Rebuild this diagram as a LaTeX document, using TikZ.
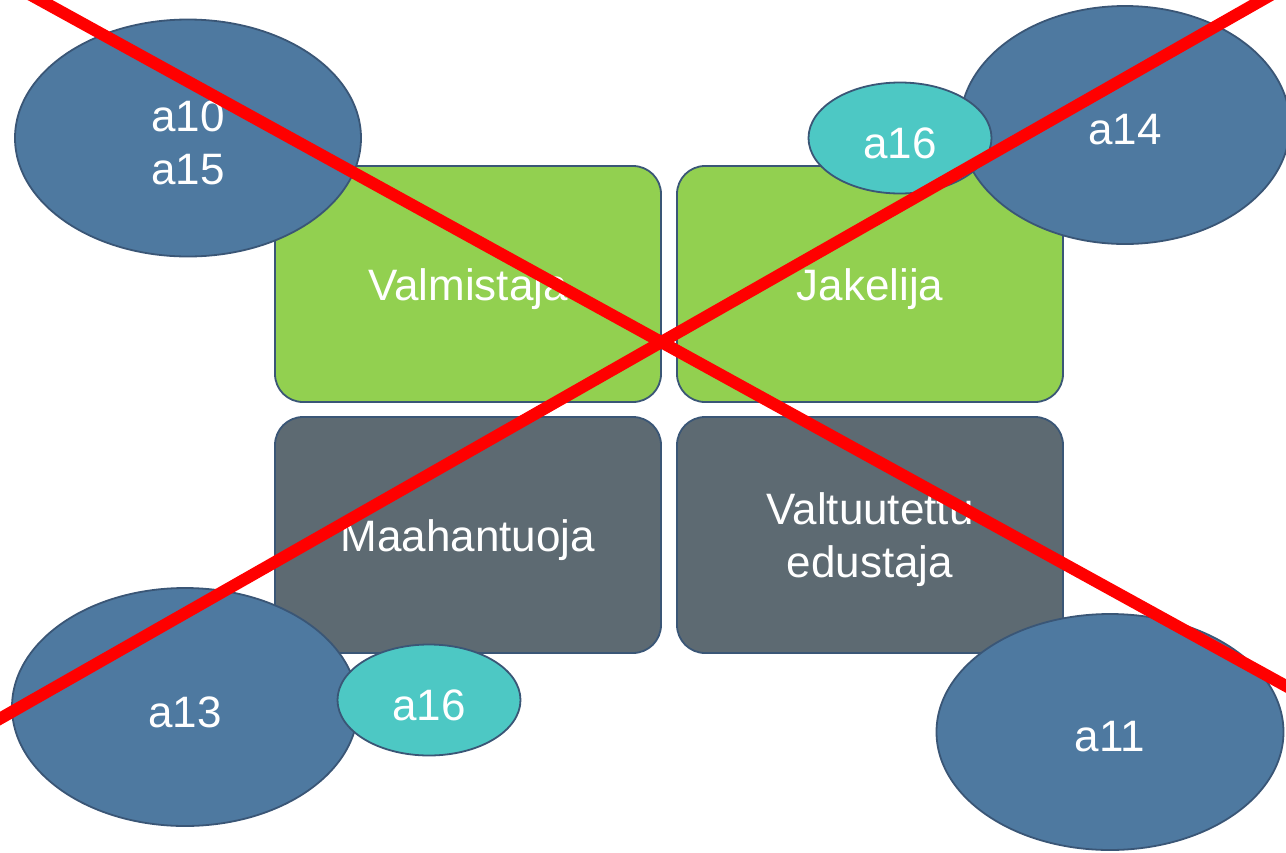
\documentclass[tikz,border=0pt]{standalone}
\usepackage{fontspec}
\setmainfont{Liberation Sans}
\usetikzlibrary{shapes.geometric}
\definecolor{boxgreen}{HTML}{92D050}
\definecolor{boxgrey}{HTML}{5D6A72}
\definecolor{ellblue}{HTML}{4E79A0}
\definecolor{ellteal}{HTML}{4DC8C4}
\definecolor{edge}{HTML}{3A5676}
\begin{document}
\begin{tikzpicture}[x=1pt,y=-1pt,
  lbl/.style={text=white,font=\fontsize{44}{53}\selectfont,align=center,inner sep=0pt,yshift=-5pt},
  rolebox/.style={draw=edge,line width=1.8pt,rounded corners=28pt,minimum width=386pt,minimum height=236pt,inner sep=0pt},
  bigell/.style={ellipse,draw=edge,line width=1.8pt,fill=ellblue,inner sep=0pt},
  smallell/.style={ellipse,draw=edge,line width=1.8pt,fill=ellteal,inner sep=0pt,minimum width=183pt,minimum height=111pt},
  cross/.style={draw=red,line width=12pt}]
\useasboundingbox (0,0) rectangle (1286,852);
\clip (0,0) rectangle (1286,852);
\node[rolebox,fill=boxgreen,label={[lbl]center:Valmistaja}] (valm) at (468,284) {};
\node[rolebox,fill=boxgreen,label={[lbl]center:Jakelija}] (jak) at (870,284) {};
\node[rolebox,fill=boxgrey,label={[lbl]center:Maahantuoja}] (maah) at (468,535) {};
\node[rolebox,fill=boxgrey,label={[lbl]center:Valtuutettu\\edustaja}] (valt) at (870,535) {};
\node[bigell,minimum width=346pt,minimum height=237pt,label={[lbl]center:a10\\a15}] (e1) at (188,138) {};
\node[bigell,minimum width=330pt,minimum height=238pt,label={[lbl]center:a14}] (e2) at (1125,125) {};
\node[smallell,label={[lbl]center:a16}] (e3) at (900,138) {};
\node[bigell,minimum width=346pt,minimum height=238pt,label={[lbl]center:a13}] (e4) at (185,707) {};
\node[smallell,label={[lbl]center:a16}] (e5) at (429,700) {};
\node[bigell,minimum width=347pt,minimum height=236pt,label={[lbl]center:a11}] (e6) at (1110,732) {};
\coordinate (c1) at (-20,-33);
\coordinate (c2) at (1306,697);
\coordinate (c3) at (-20,730);
\coordinate (c4) at (1306,-25);
\draw[cross] (c1) -- (c2);
\draw[cross] (c3) -- (c4);
\end{tikzpicture}
\end{document}
